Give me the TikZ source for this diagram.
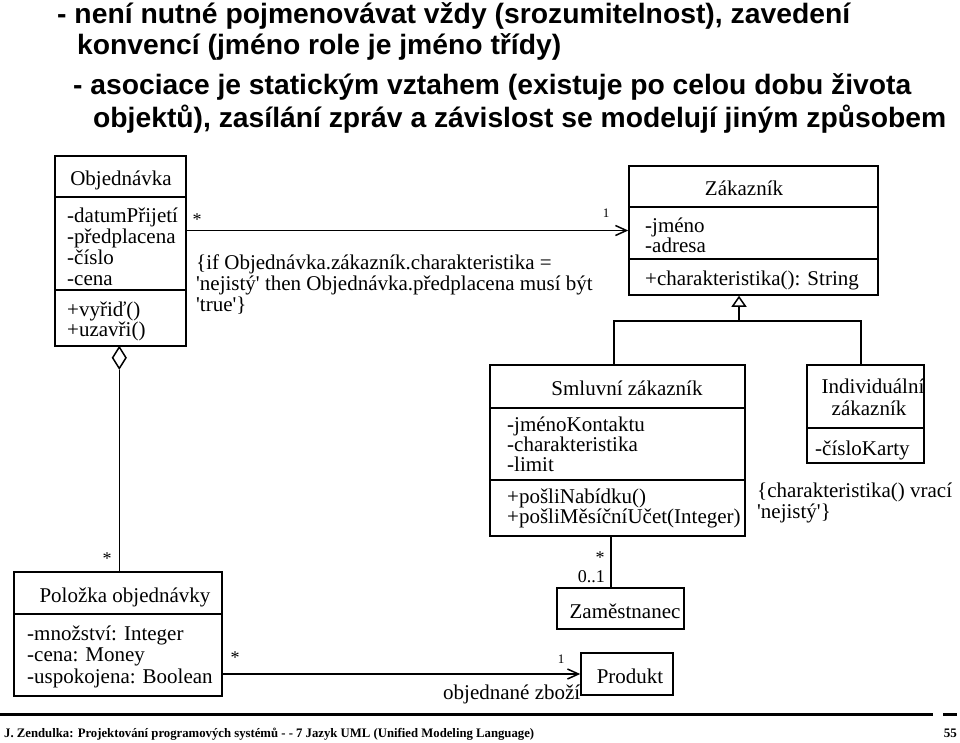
\documentclass[tikz,border=0pt]{standalone}
\usepackage{graphicx}
\usepackage{fontspec}
\setmainfont{Liberation Serif}[Ligatures=TeXOff]
\newfontfamily\hdrfont{Liberation Sans}
\usetikzlibrary{arrows.meta,shapes.geometric}
\tikzset{
  box/.style={draw, line width=1.5pt, rectangle, inner sep=0pt},
  tx/.style={inner sep=0pt, anchor=base west, font=\fontsize{21}{21}\selectfont},
  ctx/.style={inner sep=0pt, anchor=base, font=\fontsize{21}{21}\selectfont},
  mult/.style={inner sep=0pt, anchor=base, font=\fontsize{18}{18}\selectfont},
  hd/.style={inner sep=0pt, anchor=base west, font=\hdrfont\bfseries\fontsize{28}{28}\selectfont},
  ln/.style={line width=1.5pt},
  assoc/.style={line width=1.5pt, -{Straight Barb[length=11pt,width=10pt,line width=1.5pt]}},
  gen/.style={line width=1.5pt, -{Triangle[open,length=11pt,width=15pt,line width=1.5pt]}},
}
\begin{document}
\begin{tikzpicture}[x=1pt,y=-1pt]
\useasboundingbox (0,0) rectangle (960,742);

% header
\node[hd] (h1) at (57,23) {\resizebox{793pt}{\height}{- není nutné pojmenovávat vždy (srozumitelnost), zavedení}};
\node[hd] (h2) at (77,54) {\resizebox{484pt}{\height}{konvencí (jméno role je jméno třídy)}};
\node[hd] (h3) at (73,94) {\resizebox{838pt}{\height}{- asociace je statickým vztahem (existuje po celou dobu života}};
\node[hd] (h4) at (93,127) {\resizebox{853pt}{\height}{objektů), zasílání zpráv a závislost se modelují jiným způsobem}};

% Objednavka
\node[box, minimum width=131pt, minimum height=190pt] (obj) at (120.5,251) {};
\draw[ln] (obj.west |- 0,197) -- (obj.east |- 0,197);
\draw[ln] (obj.west |- 0,290) -- (obj.east |- 0,290);
\node[ctx] (objn) at (121,185) {Objednávka};
\node[tx] (oa1) at (67,222) {-datumPřijetí};
\node[tx] (oa2) at (67,243) {-předplacena};
\node[tx] (oa3) at (67,264) {-číslo};
\node[tx] (oa4) at (67,285) {-cena};
\node[tx] (oo1) at (67,316) {+vyřiď()};
\node[tx] (oo2) at (67,336) {+uzavři()};

% Zakaznik
\node[box, minimum width=249pt, minimum height=129pt] (zak) at (753.5,230.5) {};
\draw[ln] (zak.west |- 0,207) -- (zak.east |- 0,207);
\draw[ln] (zak.west |- 0,259) -- (zak.east |- 0,259);
\node[ctx] (zakn) at (744,195) {Zákazník};
\node[tx] (za1) at (645,232) {-jméno};
\node[tx] (za2) at (645,252) {-adresa};
\node[tx] (zo1) at (645,285) {+charakteristika(): String};

% association Objednavka -> Zakaznik
\draw[assoc] (obj.east |- zak.west) -- (zak.west);
\node[mult] (m1) at (197,225) {*};
\node[inner sep=0pt, anchor=base, font=\fontsize{13}{13}\selectfont] (m2) at (606,217) {1};
\node[tx] (c1) at (196,269) {\{if Objednávka.zákazník.charakteristika =};
\node[tx] (c2) at (196,290) {'nejistý' then Objednávka.předplacena musí být};
\node[tx] (c3) at (196,311) {'true'\}};

% Smluvni zakaznik
\node[box, minimum width=255pt, minimum height=171pt] (smluv) at (617.5,450.5) {};
\draw[ln] (smluv.west |- 0,408) -- (smluv.east |- 0,408);
\draw[ln] (smluv.west |- 0,480) -- (smluv.east |- 0,480);
\node[ctx] (smn) at (627,395) {Smluvní zákazník};
\node[tx] (sa1) at (507,431) {-jménoKontaktu};
\node[tx] (sa2) at (507,451) {-charakteristika};
\node[tx] (sa3) at (507,471) {-limit};
\node[tx] (so1) at (507,503) {+pošliNabídku()};
\node[tx] (so2) at (507,523) {+pošliMěsíčníUčet(Integer)};

% Individualni zakaznik
\node[box, minimum width=117pt, minimum height=98pt] (indiv) at (865.5,414) {};
\draw[ln] (indiv.west |- 0,428) -- (indiv.east |- 0,428);
\node[ctx] (in1) at (873,393) {Individuální};
\node[ctx] (in2) at (869,415) {zákazník};
\node[tx] (ia1) at (815,455) {-čísloKarty};
\node[tx] (ic1) at (757,497) {\{charakteristika() vrací};
\node[tx] (ic2) at (757,518) {'nejistý'\}};

% generalization
\coordinate (gj) at (739,321);
\coordinate (sj) at (614,321);
\coordinate (ij) at (861,321);
\draw[ln] (sj |- smluv.north) -- (sj) -- (ij) -- (ij |- indiv.north);
\draw[gen] (gj) -- (gj |- zak.south);

% Zamestnanec
\node[box, minimum width=127pt, minimum height=41pt] (zam) at (620.5,608.5) {};
\node[ctx] (zamn) at (625,618) {Zaměstnanec};
\coordinate (zx) at (611,0);
\draw[ln] (zx |- smluv.south) -- (zx |- zam.north);
\node[mult] (m3) at (600,563) {*};
\node[inner sep=0pt, anchor=base east, font=\fontsize{18}{18}\selectfont] (m4) at (605,582) {0..1};

% Polozka objednavky
\node[box, minimum width=208pt, minimum height=124pt] (pol) at (118,634) {};
\draw[ln] (pol.west |- 0,614) -- (pol.east |- 0,614);
\node[ctx] (poln) at (125,602) {Položka objednávky};
\node[tx] (pa1) at (27,640) {-množství: Integer};
\node[tx] (pa2) at (27,661) {-cena: Money};
\node[tx] (pa3) at (27,683) {-uspokojena: Boolean};

% aggregation
\node[diamond, draw, line width=1.5pt, fill=white, inner sep=0pt, minimum width=14pt, minimum height=22pt, anchor=north] (dia) at (119.3,346) {};
\draw[ln] (dia.south) -- (dia.south |- pol.north);
\node[mult] (m5) at (107,564) {*};

% Produkt
\node[tx] (oz) at (443,699) {objednané zboží};
\node[box, minimum width=92pt, minimum height=42pt] (prod) at (627,674) {};
\node[ctx] (prodn) at (630,683) {Produkt};
\draw[assoc] (pol.east |- prod.west) -- (prod.west);
\node[mult] (m6) at (235,663) {*};
\node[inner sep=0pt, anchor=base, font=\fontsize{13}{13}\selectfont] (m7) at (561,663) {1};

% footer
\coordinate (fl) at (0,714.5);
\coordinate (fr) at (933,714.5);
\coordinate (fd1) at (943,714.5);
\coordinate (fd2) at (957,714.5);
\draw[line width=3pt] (fl) -- (fr);
\draw[line width=3pt] (fd1) -- (fd2);
\node[inner sep=0pt, anchor=base west, font=\bfseries\fontsize{13}{13}\selectfont] (ft) at (4,737) {\resizebox{530pt}{\height}{J. Zendulka: Projektování programových systémů - - 7 Jazyk UML (Unified Modeling Language)}};
\node[inner sep=0pt, anchor=base east, font=\bfseries\fontsize{13}{13}\selectfont] (pg) at (957,737) {55};
\end{tikzpicture}
\end{document}
